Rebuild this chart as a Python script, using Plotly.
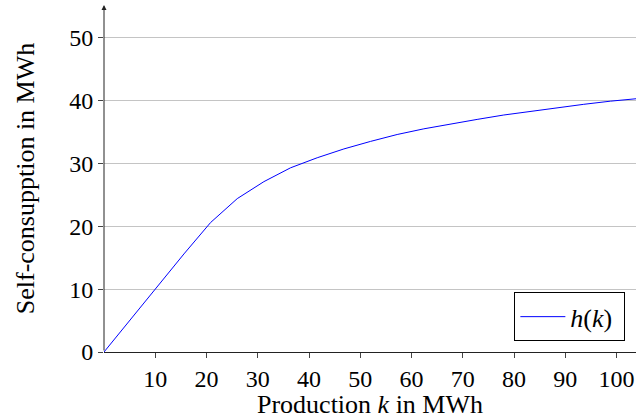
import plotly.graph_objects as go

production_k = [0, 5.2, 10.4, 15.6, 20.8, 26.0, 31.2, 36.4, 41.6, 46.8, 52.0,
                57.2, 62.4, 67.6, 72.8, 78.0, 83.2, 88.4, 93.6, 98.8, 104.0]
self_consumption = [0, 5.2, 10.4, 15.6, 20.6, 24.4, 27.1, 29.3, 30.9, 32.3, 33.5,
                    34.6, 35.5, 36.3, 37.0, 37.7, 38.3, 38.9, 39.4, 39.9, 40.3]
x_ticks = [10, 20, 30, 40, 50, 60, 70, 80, 90, 100]
y_ticks = [0, 10, 20, 30, 40, 50]

FONT = "Liberation Serif"

fig = go.Figure()
fig.add_trace(go.Scatter(
    x=production_k, y=self_consumption, mode="lines",
    line=dict(color="#0000ff", width=1),
    name="<i>h</i>(<i>k</i>) ",
))

fig.update_layout(
    width=636, height=419,
    margin=dict(l=104, r=0, t=5, b=67),
    paper_bgcolor="white", plot_bgcolor="white",
    font=dict(family=FONT, size=24, color="black"),
    showlegend=True,
    legend=dict(
        x=0.98, y=0.031, xanchor="right", yanchor="bottom",
        bordercolor="black", borderwidth=1, bgcolor="white",
        font=dict(family=FONT, size=26),
        itemwidth=45, tracegroupgap=0,
    ),
    xaxis=dict(
        range=[0, 103.8], tickvals=x_ticks, ticks="outside", ticklen=5,
        tickcolor="#444", showgrid=False, zeroline=False,
        showline=True, linecolor="#222", linewidth=1,
        title=dict(text="Production <i>k</i> in MWh", standoff=2,
                   font=dict(family=FONT, size=26)),
        tickfont=dict(family=FONT, size=24),
    ),
    yaxis=dict(
        range=[0, 55.2], tickvals=y_ticks, ticks="outside", ticklen=5,
        tickcolor="#444", showgrid=True, gridcolor="#c4c4c4", gridwidth=1,
        zeroline=False, showline=False,
        title=dict(text="Self-consupption in MWh", standoff=27,
                   font=dict(family=FONT, size=26)),
        tickfont=dict(family=FONT, size=24),
    ),
)

# y axis line with arrow at the top
fig.add_annotation(
    x=0, y=1, ax=0, ay=0, xref="x domain", yref="y domain",
    axref="x domain", ayref="y domain", showarrow=True,
    arrowhead=2, arrowsize=1, arrowwidth=1, arrowcolor="#222", text="",
)

fig.write_html("out.html", config={"displayModeBar": False},
               post_script="document.body.style.margin='0';document.body.style.overflow='hidden';")
